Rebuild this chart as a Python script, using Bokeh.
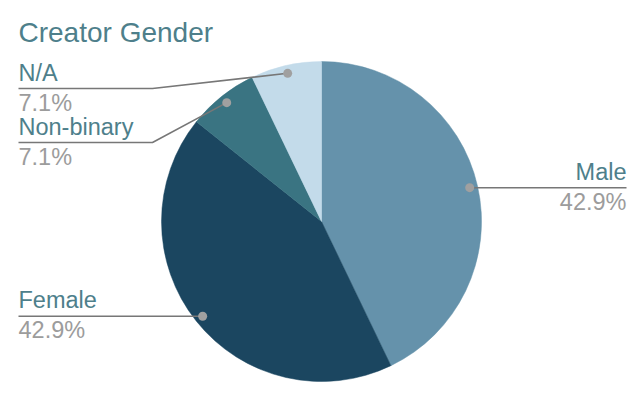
import math
from bokeh.plotting import figure
from bokeh.models import Range1d
from bokeh.embed import file_html
from bokeh.resources import INLINE
from bokeh.core.properties import value

# ---- data ----
title_text = "Creator Gender"
categories = ["Male", "Female", "Non-binary", "N/A"]
counts = [6, 6, 1, 1]
colors = ["#6592ab", "#1b4660", "#3a7482", "#c3dbea"]

# ---- layout (screen-pixel coordinates) ----
W, H = 628, 382
FONT = "Liberation Sans"
TEAL = "#4e7f8b"
GREY = "#9c9c9c"
LINE = "#777777"

p = figure(width=W, height=H, output_backend="svg", toolbar_location=None,
           x_range=Range1d(0, W), y_range=Range1d(398 - H, 398),
           x_axis_type=None, y_axis_type=None, min_border=0)
p.grid.visible = False
p.outline_line_color = None
p.background_fill_color = "white"

def Y(sy):  # screen y -> data y
    return 398 - sy

cx, cy, R = 321, 221, 160
total = sum(counts)

# wedges, clockwise from 12 o'clock
cum = 0
mids = []
for cat, c, col in zip(categories, counts, colors):
    a0 = math.pi / 2 - 2 * math.pi * cum / total
    a1 = math.pi / 2 - 2 * math.pi * (cum + c) / total
    p.wedge(x=cx, y=Y(cy), radius=R, radius_units="screen",
            start_angle=a0, end_angle=a1, direction="clock",
            fill_color=col, line_color=col, line_width=0.5)
    mids.append((a0 + a1) / 2)
    cum += c

# label layout: side, line y (None -> follow dot), elbow x
layout = {
    "Male": ("right", None, None),
    "Female": ("left", None, None),
    "Non-binary": ("left", 142, 152),
    "N/A": ("left", 88, 152),
}

for cat, c, m in zip(categories, counts, mids):
    dx = cx + 0.95 * R * math.cos(m)
    dy = cy - 0.95 * R * math.sin(m)
    side, ly, ex = layout[cat]
    if ly is None:
        ly = dy
    if side == "left":
        tx, align = 18, "left"
    else:
        tx, align = 626, "right"
    xs = [tx] + ([ex] if ex is not None else []) + [dx]
    ys = [ly] + ([ly] if ex is not None else []) + [dy]
    p.line(x=xs, y=[Y(v) for v in ys], line_color=LINE, line_width=1.6)
    p.scatter(x=[dx], y=[Y(dy)], size=9, fill_color="#a0a0a0", line_color=None)
    p.text(x=[tx], y=[Y(ly - 16)], text=[cat], text_font=value(FONT),
           text_font_size="23.5px", text_color=TEAL, text_align=align,
           text_baseline="alphabetic")
    p.text(x=[tx], y=[Y(ly + 14)], text=[f"{100 * c / total:.1f}%"],
           text_font=value(FONT), text_font_size="23.5px", text_color=GREY,
           text_align=align, text_baseline="alphabetic")

p.text(x=[18], y=[Y(31.5)], text=[title_text], text_font=value(FONT),
       text_font_size="28px", text_color=TEAL, text_align="left",
       text_baseline="alphabetic")

open("out.html", "w").write(file_html(p, INLINE))
